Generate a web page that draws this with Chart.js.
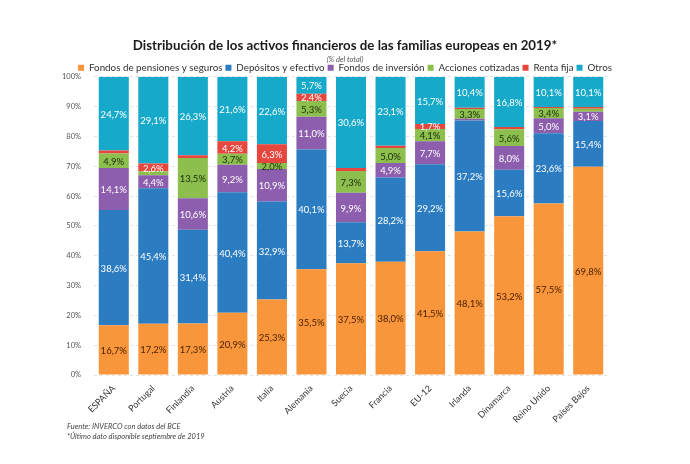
<!DOCTYPE html>
<html>
<head>
<meta charset="utf-8">
<script src="https://cdn.jsdelivr.net/npm/chart.js@4/dist/chart.umd.min.js"></script>
<style>
  html, body { margin: 0; padding: 0; background: #fff; }
  #wrap { position: relative; width: 690px; height: 464px; }
  .foot { position: absolute; left: 67px; font-family: Lato, sans-serif; font-style: italic; font-size: 7.5px; color: #444; }
</style>
</head>
<body>
<div id="wrap">
  <canvas id="c" width="690" height="464"></canvas>
  <div class="foot" style="top:422px">Fuente: INVERCO con datos del BCE</div>
  <div class="foot" style="top:432px">*Último dato disponible septiembre de 2019</div>
</div>
<script>
const categories = ["ESPAÑA","Portugal","Finlandia","Austria","Italia","Alemania","Suecia","Francia","EU-12","Irlanda","Dinamarca","Reino Unido","Países Bajos"];
const fondosPensiones = [16.7, 17.2, 17.3, 20.9, 25.3, 35.5, 37.5, 38.0, 41.5, 48.1, 53.2, 57.5, 69.8];
const depositos       = [38.6, 45.4, 31.4, 40.4, 32.9, 40.1, 13.7, 28.2, 29.2, 37.2, 15.6, 23.6, 15.4];
const fondosInversion = [14.1, 4.4, 10.6, 9.2, 10.9, 11.0, 9.9, 4.9, 7.7, 0.6, 8.0, 5.0, 3.1];
const acciones        = [4.9, 1.3, 13.5, 3.7, 2.0, 5.3, 7.3, 5.0, 4.1, 3.3, 5.6, 3.4, 1.0];
const rentaFija       = [1.0, 2.6, 0.9, 4.2, 6.3, 2.4, 1.0, 0.8, 1.7, 0.4, 0.8, 0.4, 0.6];
const otros           = [24.7, 29.1, 26.3, 21.6, 22.6, 5.7, 30.6, 23.1, 15.7, 10.4, 16.8, 10.1, 10.1];
const seriesNames = ["Fondos de pensiones y seguros","Depósitos y efectivo","Fondos de inversión","Acciones cotizadas","Renta fija","Otros"];
const yTicks = [0,10,20,30,40,50,60,70,80,90,100];

const colors = ["#F9963B","#2C7CC2","#8D5EAD","#8CBF4E","#E5473F","#17A9C9"];
const labelColors = ["#4a2200","#ffffff","#ffffff","#1c2a08","#ffffff","#ffffff"];
const seriesData = [fondosPensiones, depositos, fondosInversion, acciones, rentaFija, otros];

const FONT = "Lato, 'Open Sans', sans-serif";

// tighten the gap below the legend
const legendProto = Chart.Legend._element.prototype;
const origFit = legendProto.fit;
legendProto.fit = function () {
  origFit.call(this);
  if (this.isHorizontal()) this.height -= 6;
};

const labelPlugin = {
  id: 'segLabels',
  afterDatasetsDraw(chart) {
    const ctx = chart.ctx;
    ctx.save();
    ctx.font = "9.5px " + FONT;
    ctx.textAlign = 'center';
    ctx.textBaseline = 'middle';
    chart.data.datasets.forEach((ds, di) => {
      const meta = chart.getDatasetMeta(di);
      if (meta.hidden) return;
      meta.data.forEach((el, i) => {
        const v = ds.data[i];
        if (v < 1.5) return;
        const p = el.getProps(['x','y','base'], true);
        ctx.fillStyle = labelColors[di];
        ctx.fillText(v.toFixed(1).replace('.', ',') + '%', p.x, (p.y + p.base) / 2 + 1);
      });
    });
    ctx.restore();
  }
};

new Chart(document.getElementById('c'), {
  type: 'bar',
  data: {
    labels: categories,
    datasets: seriesData.map((d, i) => ({
      label: seriesNames[i],
      data: d,
      backgroundColor: colors[i],
      borderWidth: 0,
      categoryPercentage: 0.76,
      barPercentage: 1.0
    }))
  },
  options: {
    responsive: false,
    animation: false,
    layout: { padding: { left: 5, right: 5, top: 0, bottom: 39 } },
    plugins: {
      title: {
        display: true,
        text: "Distribución de los activos financieros de las familias europeas en 2019*",
        font: { family: FONT, size: 13.3, weight: 'bold' },
        color: '#1a1a1a',
        padding: { top: 38, bottom: 1 }
      },
      subtitle: {
        display: true,
        text: "(% del total)",
        font: { family: FONT, size: 7.5, style: 'italic' },
        color: '#555',
        padding: { top: 0, bottom: -4 }
      },
      legend: {
        display: true,
        labels: {
          boxWidth: 6, boxHeight: 6, padding: 3,
          font: { family: FONT, size: 9.8 },
          color: '#333'
        }
      },
      tooltip: { enabled: false }
    },
    scales: {
      x: {
        stacked: true,
        grid: { display: false },
        border: { display: false },
        ticks: {
          autoSkip: false, maxRotation: 45, minRotation: 45,
          font: { family: FONT, size: 9 }, color: '#333', padding: 0
        }
      },
      y: {
        stacked: true,
        min: 0, max: 100,
        afterBuildTicks(axis) { axis.ticks = yTicks.map(v => ({ value: v })); },
        afterFit(axis) { axis.width = 89; },
        grid: { color: '#e3e3e3', drawTicks: false },
        border: { display: false, dash: [3, 3] },
        ticks: {
          callback: v => v + '%',
          font: { family: FONT, size: 7.5 }, color: '#555', padding: 13
        }
      },
      yRight: {
        position: 'right',
        min: 0, max: 100,
        afterFit(axis) { axis.width = 77; },
        grid: { display: false },
        border: { display: false },
        ticks: { display: false }
      }
    }
  },
  plugins: [labelPlugin]
});
</script>
</body>
</html>
